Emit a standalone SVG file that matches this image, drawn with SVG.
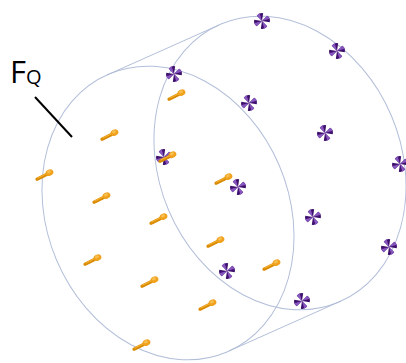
<svg xmlns="http://www.w3.org/2000/svg" xmlns:xlink="http://www.w3.org/1999/xlink" width="406" height="363" viewBox="0 0 406 363">
  <style>
    .outline { fill: none; stroke: #b3bfd9; stroke-width: 1; }
    .label { font-family: "Open Sans", "Liberation Sans", Arial, sans-serif; fill: #000; }
  </style>
  <defs>
    <g id="pin">
      <path d="M-13,6.2 L-3,1.2" stroke="#d88a00" stroke-width="3.2" stroke-linecap="round" fill="none"/>
      <path d="M-12.2,5.1 L-3,0.6" stroke="#f5b030" stroke-width="1.1" stroke-linecap="round" fill="none"/>
      <ellipse cx="-0.5" cy="-0.4" rx="4" ry="3.1" transform="rotate(-25 -0.5 -0.4)" fill="#f0a21e"/>
      <ellipse cx="-1" cy="-1.2" rx="2" ry="1.4" transform="rotate(-25 -1 -1.2)" fill="#f8c050"/>
    </g>
    <g id="petal">
      <path d="M0,0 L-3.3,-6.6 Q0,-9.2 3.5,-7 Z" fill="#3e0f6c"/>
      <path d="M0,0 L-3.3,-6.6 Q-1.4,-8 0.2,-8.2 Z" fill="#8656be"/>
    </g>
    <g id="flower">
      <g transform="rotate(-18)">
        <use xlink:href="#petal"/>
        <use xlink:href="#petal" transform="rotate(90)"/>
        <use xlink:href="#petal" transform="rotate(180)"/>
        <use xlink:href="#petal" transform="rotate(270)"/>
      </g>
    </g>
  </defs>

  <g id="cylinder">
    <ellipse id="front-face" class="outline" cx="168" cy="213" rx="121" ry="151" transform="rotate(-23 168 213)"/>
    <ellipse id="back-face" class="outline" cx="280" cy="163" rx="121" ry="151" transform="rotate(-23 280 163)"/>
    <line class="outline" x1="107" y1="75" x2="219" y2="25"/>
    <line class="outline" x1="229" y1="351" x2="341" y2="301"/>
  </g>

  <g id="flowers">
    <use xlink:href="#flower" x="174" y="74"/>
    <use xlink:href="#flower" x="262" y="21"/>
    <use xlink:href="#flower" x="337" y="51"/>
    <use xlink:href="#flower" x="249" y="103"/>
    <use xlink:href="#flower" x="325" y="133"/>
    <use xlink:href="#flower" x="164" y="157"/>
    <use xlink:href="#flower" x="238" y="187"/>
    <use xlink:href="#flower" x="400" y="164"/>
    <use xlink:href="#flower" x="313" y="217"/>
    <use xlink:href="#flower" x="389" y="247"/>
    <use xlink:href="#flower" x="227" y="271"/>
    <use xlink:href="#flower" x="302" y="301"/>
  </g>

  <g id="pins">
    <use xlink:href="#pin" x="182" y="93"/>
    <use xlink:href="#pin" x="115" y="133"/>
    <use xlink:href="#pin" x="50" y="173"/>
    <use xlink:href="#pin" x="173" y="155"/>
    <use xlink:href="#pin" x="229" y="177"/>
    <use xlink:href="#pin" x="107" y="196"/>
    <use xlink:href="#pin" x="164" y="217"/>
    <use xlink:href="#pin" x="221" y="240"/>
    <use xlink:href="#pin" x="98" y="258"/>
    <use xlink:href="#pin" x="155" y="280"/>
    <use xlink:href="#pin" x="277" y="263"/>
    <use xlink:href="#pin" x="213" y="303"/>
    <use xlink:href="#pin" x="147" y="343"/>
  </g>

  <g id="label-FQ">
    <text class="label" x="10" y="83" font-size="31">F<tspan font-size="20" dy="1">Q</tspan></text>
    <line x1="35" y1="97" x2="72" y2="137" stroke="#000" stroke-width="2"/>
  </g>
</svg>
